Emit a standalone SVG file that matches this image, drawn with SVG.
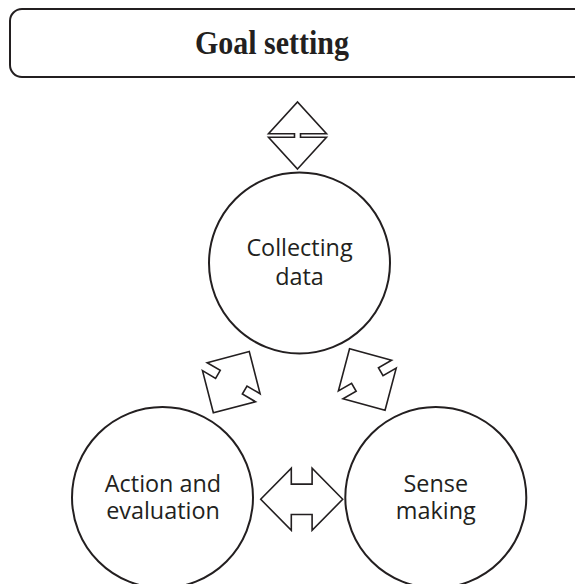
<svg xmlns="http://www.w3.org/2000/svg" width="575" height="584" viewBox="0 0 575 584">
<style>
.node{fill:#fff;stroke:#231f20;stroke-width:2}
.lbl{font-family:"Open Sans","Noto Sans",sans-serif;font-size:23.4px;fill:#231f20;text-anchor:middle}
.title{font-family:"Liberation Serif","Times New Roman",serif;font-weight:bold;font-size:34px;fill:#231f20;text-anchor:middle}
.arr{fill:#fff;stroke:#231f20;stroke-width:1.6;stroke-linejoin:miter}
</style>
<rect width="575" height="584" fill="#fff"/>
<g id="goal-setting">
<rect class="node" x="10" y="9" width="600" height="68" rx="12"/>
<text class="title" x="272" y="54" textLength="154" lengthAdjust="spacingAndGlyphs">Goal setting</text>
</g>
<g id="connectors">
<path id="arrow-goal-collect" class="arr" transform="translate(297.5,135.5) rotate(90)" d="M33.5,0 L1.75,-29 L1.75,-3 L-1.75,-3 L-1.75,-29 L-33.5,0 L-1.75,29 L-1.75,3 L1.75,3 L1.75,29 Z"/>
<path id="arrow-collect-action" class="arr" transform="translate(231.3,382.2) rotate(-59.6)" d="M35.5,0 L4.6,-30.7 L4.6,-15.5 L-4.6,-15.5 L-4.6,-30.7 L-35.5,0 L-4.6,30.7 L-4.6,15.5 L4.6,15.5 L4.6,30.7 Z"/>
<path id="arrow-collect-sense" class="arr" transform="translate(367.3,379.5) rotate(60)" d="M35.5,0 L4.6,-30.7 L4.6,-15.5 L-4.6,-15.5 L-4.6,-30.7 L-35.5,0 L-4.6,30.7 L-4.6,15.5 L4.6,15.5 L4.6,30.7 Z"/>
<path id="arrow-action-sense" class="arr" transform="translate(301.7,499.3)" d="M41,0 L10.4,-31 L10.4,-15.2 L-10.4,-15.2 L-10.4,-31 L-41,0 L-10.4,31 L-10.4,15.2 L10.4,15.2 L10.4,31 Z"/>
</g>
<g id="collecting-data">
<circle class="node" cx="299.5" cy="263" r="90.5"/>
<text class="lbl" x="299.5" y="256">Collecting</text>
<text class="lbl" x="299.5" y="284.5">data</text>
</g>
<g id="action-and-evaluation">
<circle class="node" cx="162.5" cy="497.5" r="90.5"/>
<text class="lbl" x="163" y="491.7">Action and</text>
<text class="lbl" x="163" y="519.4">evaluation</text>
</g>
<g id="sense-making">
<circle class="node" cx="435.8" cy="497.5" r="90.5"/>
<text class="lbl" x="435.8" y="491.7">Sense</text>
<text class="lbl" x="435.8" y="519.4">making</text>
</g>
</svg>
